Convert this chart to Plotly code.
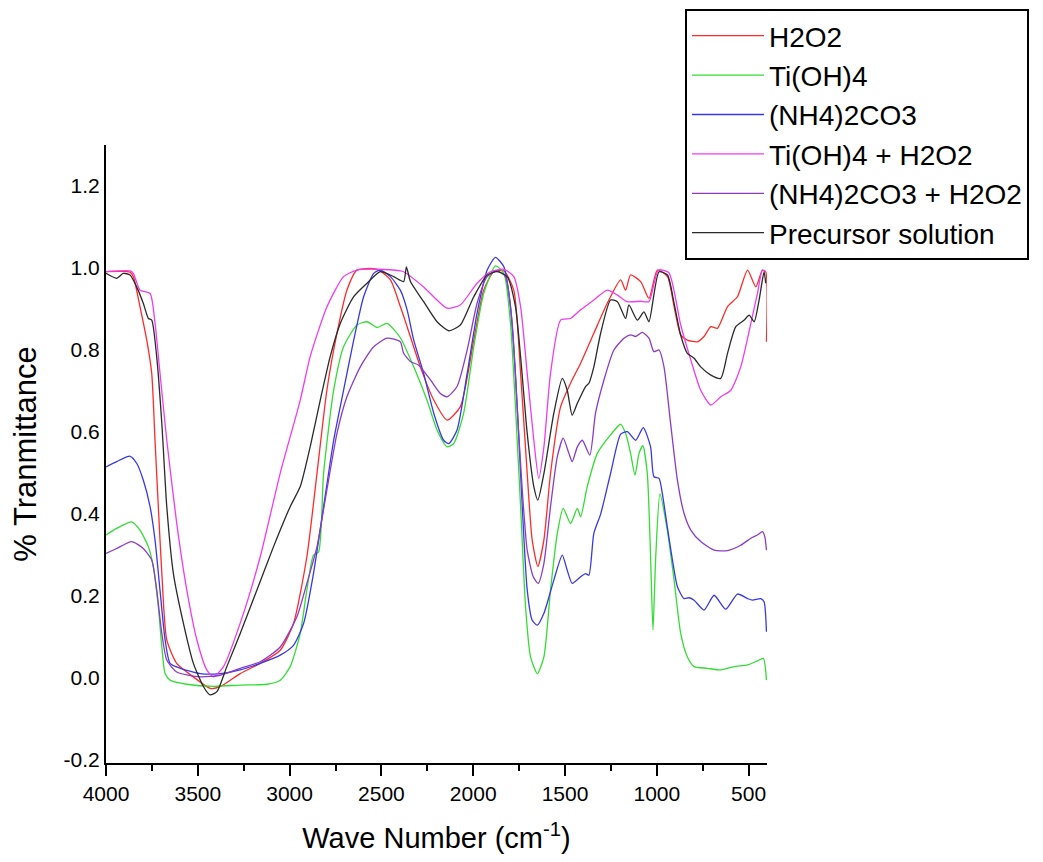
import plotly.graph_objects as go

# ---- data (wavenumber in cm^-1, transmittance) ----
h2o2_x = [4000, 3869, 3851, 3815, 3778, 3751, 3733, 3715, 3696, 3669, 3615, 3524, 3433, 3378, 3269, 3160, 3051, 2979, 2906, 2851, 2797, 2742, 2688, 2633, 2524, 2451, 2397, 2360, 2288, 2215, 2142, 2070, 1997, 1943, 1888, 1833, 1779, 1742, 1706, 1679, 1648, 1615, 1579, 1524, 1470, 1415, 1343, 1270, 1197, 1170, 1143, 1088, 1043, 997, 942, 906, 870, 834, 779, 743, 706, 670, 615, 561, 506, 461, 425, 407, 403]
h2o2_y = [0.991, 0.990, 0.979, 0.906, 0.824, 0.743, 0.580, 0.418, 0.256, 0.093, 0.036, 0.003, -0.025, -0.021, 0.011, 0.036, 0.068, 0.133, 0.296, 0.499, 0.702, 0.841, 0.946, 0.995, 0.997, 0.971, 0.906, 0.857, 0.759, 0.678, 0.629, 0.662, 0.824, 0.946, 0.991, 0.993, 0.946, 0.743, 0.499, 0.337, 0.272, 0.337, 0.499, 0.662, 0.719, 0.768, 0.841, 0.914, 0.971, 0.946, 0.983, 0.967, 0.926, 0.995, 0.979, 0.906, 0.837, 0.824, 0.820, 0.833, 0.857, 0.853, 0.906, 0.930, 0.995, 0.954, 0.995, 0.991, 0.820]

tioh_x = [4000, 3942, 3860, 3815, 3769, 3742, 3715, 3696, 3678, 3651, 3560, 3415, 3269, 3124, 3051, 2997, 2942, 2906, 2870, 2842, 2815, 2760, 2706, 2633, 2578, 2524, 2469, 2397, 2324, 2252, 2197, 2142, 2106, 2052, 1997, 1943, 1879, 1833, 1797, 1770, 1742, 1715, 1688, 1651, 1615, 1579, 1542, 1510, 1470, 1433, 1415, 1379, 1324, 1252, 1197, 1170, 1143, 1119, 1097, 1076, 1052, 1034, 1021, 1006, 983, 943, 906, 870, 834, 797, 725, 652, 579, 506, 452, 420, 403]
tioh_y = [0.349, 0.365, 0.381, 0.361, 0.320, 0.271, 0.174, 0.076, 0.011, -0.005, -0.015, -0.020, -0.017, -0.015, -0.005, 0.028, 0.109, 0.215, 0.300, 0.308, 0.499, 0.702, 0.808, 0.861, 0.869, 0.855, 0.865, 0.830, 0.759, 0.678, 0.605, 0.564, 0.572, 0.646, 0.808, 0.938, 1.005, 0.987, 0.865, 0.662, 0.418, 0.174, 0.052, 0.011, 0.052, 0.215, 0.353, 0.414, 0.377, 0.414, 0.393, 0.467, 0.548, 0.593, 0.619, 0.597, 0.548, 0.495, 0.548, 0.567, 0.499, 0.296, 0.117, 0.296, 0.449, 0.361, 0.239, 0.109, 0.052, 0.028, 0.024, 0.020, 0.028, 0.032, 0.042, 0.048, -0.005]

nh4_x = [4000, 3942, 3869, 3833, 3797, 3760, 3733, 3706, 3678, 3651, 3596, 3487, 3378, 3269, 3160, 3051, 2979, 2924, 2870, 2815, 2760, 2706, 2651, 2597, 2542, 2506, 2451, 2397, 2360, 2324, 2270, 2215, 2161, 2133, 2088, 2033, 1979, 1924, 1879, 1833, 1797, 1770, 1751, 1733, 1706, 1679, 1651, 1615, 1561, 1515, 1488, 1461, 1415, 1388, 1370, 1343, 1306, 1252, 1197, 1161, 1115, 1074, 1034, 1016, 988, 970, 943, 915, 888, 852, 824, 797, 743, 688, 625, 561, 506, 479, 434, 416, 403]
nh4_y = [0.515, 0.528, 0.541, 0.524, 0.483, 0.418, 0.337, 0.215, 0.093, 0.036, 0.024, 0.011, 0.011, 0.020, 0.036, 0.056, 0.080, 0.133, 0.255, 0.418, 0.580, 0.702, 0.824, 0.930, 0.987, 0.995, 0.979, 0.946, 0.898, 0.824, 0.743, 0.646, 0.580, 0.572, 0.605, 0.743, 0.890, 0.995, 1.026, 1.003, 0.906, 0.743, 0.580, 0.418, 0.215, 0.141, 0.129, 0.158, 0.239, 0.300, 0.263, 0.231, 0.247, 0.255, 0.251, 0.353, 0.400, 0.499, 0.595, 0.601, 0.580, 0.611, 0.564, 0.491, 0.487, 0.450, 0.369, 0.288, 0.223, 0.194, 0.196, 0.190, 0.166, 0.202, 0.168, 0.205, 0.194, 0.190, 0.194, 0.186, 0.113]

tioh_h2o2_x = [4000, 3869, 3851, 3815, 3760, 3733, 3706, 3669, 3615, 3560, 3505, 3451, 3415, 3360, 3269, 3160, 3051, 2942, 2888, 2796, 2706, 2633, 2524, 2397, 2379, 2270, 2142, 2070, 1979, 1906, 1833, 1779, 1742, 1706, 1670, 1643, 1615, 1579, 1524, 1470, 1415, 1343, 1270, 1215, 1161, 1088, 1043, 992, 935, 870, 815, 761, 706, 652, 597, 543, 488, 452, 425, 407]
tioh_h2o2_y = [0.991, 0.993, 0.987, 0.946, 0.938, 0.866, 0.744, 0.580, 0.378, 0.215, 0.093, 0.020, 0.003, 0.028, 0.134, 0.296, 0.500, 0.678, 0.784, 0.906, 0.979, 0.995, 0.997, 0.993, 0.991, 0.954, 0.902, 0.910, 0.963, 0.991, 0.997, 0.979, 0.906, 0.743, 0.580, 0.487, 0.564, 0.743, 0.873, 0.877, 0.898, 0.922, 0.946, 0.934, 0.918, 0.919, 0.918, 0.995, 0.989, 0.861, 0.776, 0.702, 0.666, 0.686, 0.702, 0.759, 0.865, 0.938, 0.995, 0.991]

nh4_h2o2_x = [4000, 3942, 3860, 3797, 3751, 3724, 3696, 3669, 3615, 3487, 3378, 3269, 3160, 3051, 2960, 2906, 2851, 2797, 2742, 2688, 2615, 2542, 2469, 2397, 2379, 2342, 2297, 2233, 2179, 2142, 2088, 2033, 1979, 1924, 1870, 1824, 1788, 1761, 1733, 1706, 1673, 1646, 1615, 1579, 1542, 1510, 1479, 1461, 1433, 1406, 1365, 1334, 1288, 1234, 1179, 1143, 1115, 1079, 1043, 1016, 988, 961, 925, 888, 852, 815, 761, 688, 615, 543, 488, 452, 425, 412, 403]
nh4_h2o2_y = [0.304, 0.316, 0.333, 0.316, 0.288, 0.215, 0.109, 0.044, 0.015, 0.003, 0.007, 0.024, 0.040, 0.076, 0.150, 0.231, 0.320, 0.459, 0.597, 0.686, 0.759, 0.808, 0.829, 0.820, 0.792, 0.772, 0.763, 0.727, 0.694, 0.686, 0.711, 0.800, 0.914, 0.979, 0.993, 0.979, 0.865, 0.662, 0.459, 0.312, 0.247, 0.231, 0.280, 0.418, 0.540, 0.585, 0.548, 0.528, 0.564, 0.580, 0.544, 0.646, 0.727, 0.800, 0.829, 0.837, 0.833, 0.843, 0.829, 0.796, 0.800, 0.759, 0.621, 0.483, 0.402, 0.361, 0.333, 0.312, 0.311, 0.324, 0.341, 0.349, 0.357, 0.345, 0.312]

precursor_x = [4000, 3942, 3906, 3869, 3833, 3797, 3769, 3751, 3724, 3696, 3669, 3633, 3578, 3524, 3469, 3433, 3396, 3342, 3269, 3178, 3088, 2997, 2942, 2888, 2833, 2779, 2724, 2651, 2578, 2506, 2433, 2379, 2364, 2342, 2270, 2197, 2133, 2070, 1997, 1924, 1870, 1815, 1770, 1742, 1706, 1670, 1648, 1615, 1561, 1515, 1488, 1461, 1433, 1388, 1370, 1343, 1306, 1252, 1215, 1170, 1152, 1106, 1070, 1043, 988, 942, 906, 870, 834, 797, 761, 706, 652, 615, 570, 524, 497, 470, 443, 416, 407]
precursor_y = [0.987, 0.975, 0.987, 0.983, 0.954, 0.914, 0.877, 0.873, 0.784, 0.621, 0.418, 0.255, 0.133, 0.036, -0.021, -0.041, -0.033, 0.028, 0.109, 0.215, 0.320, 0.418, 0.467, 0.564, 0.678, 0.784, 0.865, 0.930, 0.963, 0.991, 0.979, 0.967, 1.003, 0.967, 0.918, 0.869, 0.847, 0.861, 0.930, 0.983, 0.991, 0.979, 0.906, 0.784, 0.597, 0.467, 0.434, 0.499, 0.646, 0.731, 0.702, 0.641, 0.670, 0.711, 0.719, 0.759, 0.841, 0.922, 0.918, 0.877, 0.910, 0.873, 0.893, 0.869, 0.991, 0.983, 0.914, 0.836, 0.792, 0.780, 0.759, 0.739, 0.731, 0.792, 0.857, 0.873, 0.885, 0.869, 0.922, 0.991, 0.963]

series_names = ["H2O2", "Ti(OH)4", "(NH4)2CO3", "Ti(OH)4 + H2O2", "(NH4)2CO3 + H2O2", "Precursor solution"]
series_x = [h2o2_x, tioh_x, nh4_x, tioh_h2o2_x, nh4_h2o2_x, precursor_x]
series_y = [h2o2_y, tioh_y, nh4_y, tioh_h2o2_y, nh4_h2o2_y, precursor_y]
series_colors = ["#ff2a2a", "#33dd33", "#3838e8", "#f03cf0", "#8a3cc8", "#2a2a2a"]

x_ticks = [4000, 3500, 3000, 2500, 2000, 1500, 1000, 500]
y_ticks = [-0.2, 0.0, 0.2, 0.4, 0.6, 0.8, 1.0, 1.2]

FONT = "Arial, Liberation Sans, sans-serif"

fig = go.Figure()
for name, xs, ys, col in zip(series_names, series_x, series_y, series_colors):
    fig.add_trace(go.Scatter(
        x=xs, y=ys, mode="lines", name=name,
        line=dict(color=col, width=1.3, shape="spline", smoothing=0.6),
    ))

# figure is drawn inside the page's default 8px body margin
W, H = 1027, 846
ML, MR, MT, MB = 98, 268, 137, 91
plot_w = W - ML - MR
plot_h = H - MT - MB

fig.update_layout(
    width=W, height=H,
    paper_bgcolor="white", plot_bgcolor="white",
    margin=dict(l=ML, r=MR, t=MT, b=MB, pad=0, autoexpand=False),
    font=dict(family=FONT, color="black"),
    showlegend=True,
    legend=dict(
        x=(677 - ML) / plot_w, y=1 + (MT - 1) / plot_h, xanchor="left", yanchor="top",
        xref="paper", yref="paper",
        bordercolor="black", borderwidth=2, bgcolor="white",
        font=dict(size=28, family=FONT, color="black"),
        traceorder="normal",
        itemwidth=72,
    ),
    xaxis=dict(
        range=[4000, 400], autorange=False,
        tickvals=x_ticks, ticktext=[str(v) for v in x_ticks],
        ticks="outside", ticklen=11, tickwidth=2, tickcolor="black",
        minor=dict(dtick=250, ticks="outside", ticklen=6, tickwidth=2, tickcolor="black"),
        showline=True, linecolor="black", linewidth=2,
        showgrid=False, zeroline=False, automargin=False,
        tickfont=dict(size=21, family=FONT, color="black"),
        title=dict(text="Wave Number (cm<sup>-1</sup>)", font=dict(size=29, family=FONT), standoff=34),
    ),
    yaxis=dict(
        range=[-0.207, 1.3], autorange=False,
        tickvals=y_ticks, ticktext=[f"{v:.1f}" for v in y_ticks],
        ticks="", showline=True, linecolor="black", linewidth=2,
        showgrid=False, zeroline=False, automargin=False,
        tickfont=dict(size=21, family=FONT, color="black"),
        title=dict(text="% Tranmittance", font=dict(size=31, family=FONT), standoff=28),
    ),
)

fig.write_html("out.html")
